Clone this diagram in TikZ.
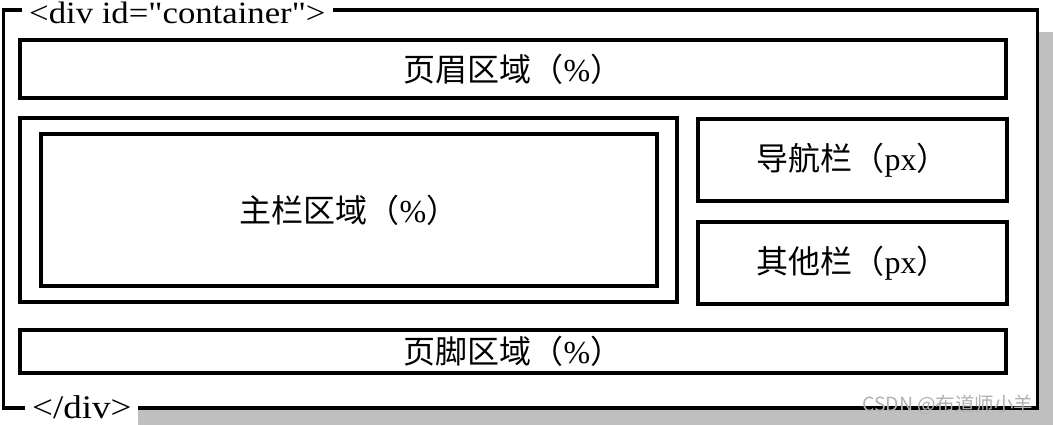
\documentclass[tikz,border=0pt]{standalone}
\usepackage{fontspec}
\usepackage{tikz}
\usetikzlibrary{positioning}
\setmainfont{Liberation Serif}
\newfontfamily\cjk{Noto Sans CJK SC}
\newfontfamily\tagfont{Liberation Serif}[FakeStretch=1.12]
\definecolor{shadowgray}{HTML}{BFBFBF}

\tikzset{
    box/.style={draw=black, fill=white, line width=3.1pt, rectangle, inner sep=0pt},
    tag/.style={fill=white, inner xsep=7pt, inner ysep=0pt, font=\tagfont\fontsize{31}{34}\selectfont}
}

\begin{document}
\begin{tikzpicture}[x=1pt, y=-1pt, font=\fontsize{32}{36}\selectfont]
        \useasboundingbox (0,0) rectangle (1053,424);
        % drop shadow of the container (right and bottom strips)
        \fill[shadowgray] (1030,32) -- (1060,32) -- (1060,430) -- (138,430) -- (138,400) -- (1030,400) -- cycle;

        % container
        \node[box, minimum width=1034pt, minimum height=398pt] at (520.5,209) (container) {};

        % header and footer
        \node[box, minimum width=986pt, minimum height=58pt] at (513,69) (header) {{\cjk 页眉区域（}\%{\cjk ）}};
        \node[box, minimum width=986pt, minimum height=43pt] at (513,351.5) (footer) {{\cjk 页脚区域（}\%{\cjk ）}};

        % main column
        \node[box, minimum width=657pt, minimum height=184pt] at (348.5,210) (mainouter) {};
        \node[box, minimum width=616pt, minimum height=152pt] at (349,210) (maininner) {{\cjk 主栏区域（}\%{\cjk ）}};

        % side columns
        \node[box, minimum width=309pt, minimum height=82pt] at (852.5,160) (nav) {{\cjk 导航栏（}px{\cjk ）}};
        \node[box, minimum width=309pt, minimum height=82pt] at (852.5,263) (other) {{\cjk 其他栏（}px{\cjk ）}};

        % tags on the border
        \node[tag, anchor=west, minimum height=24pt] at (22,13) (opentag) {<div id=\symbol{34}container\symbol{34}>};
        \node[tag, anchor=west, minimum height=26pt, font=\tagfont\fontsize{33}{36}\selectfont] at (25,407) (closetag) {</div>};

        % watermark
        \node[text=gray!60, font=\cjk\fontsize{19.5}{22}\selectfont, anchor=east] at (1037,405) (mark) {CSDN @布道师小羊};
    \end{tikzpicture}
\end{document}
